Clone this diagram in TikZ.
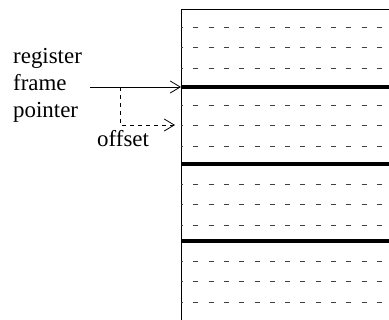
\documentclass[tikz,border=0pt]{standalone}
\usepackage{fontspec}
\setmainfont{Liberation Serif}
\usetikzlibrary{arrows.meta}

\begin{document}
\begin{tikzpicture}[x=1bp,y=-1bp,
  lbl/.style={inner sep=0pt,font=\fontsize{23}{27}\selectfont},
  ptr/.style={-{Straight Barb[length=10bp,width=12bp]},line width=0.8bp},
  slot/.style={line width=1bp,black!75,dash pattern=on 5bp off 10.3bp,dash phase=3bp},
  frame/.style={line width=3.4bp}]
  \useasboundingbox (0,0) rectangle (389,320);
  \clip (0,0) rectangle (389,320);
  % stack
  \draw[line width=1bp] (181,320) -- (181,9) -- (395,9);
  \foreach \y in {27,47,68,105,125,146,184,204,225,261,281,302}
    \draw[slot] (181,\y) -- (395,\y);
  \foreach \y in {87,164,241}
    \draw[frame] (181,\y) -- (395,\y);
  % labels
  \node[lbl,anchor=base west,align=left] (rfp) at (13,117) {register\\frame\\pointer};
  \node[lbl,anchor=base west] (off) at (97,146) {offset};
  \coordinate (fp) at (181,87);
  \coordinate (tail) at (90,87);
  \coordinate (bend) at (120,87);
  \coordinate (corner) at (120,125);
  \coordinate (slotpos) at (175,125);
  \draw[ptr] (tail) -- (fp);
  \draw[ptr,dash pattern=on 4bp off 4bp] (bend) -- (corner) -- (slotpos);
\end{tikzpicture}
\end{document}
